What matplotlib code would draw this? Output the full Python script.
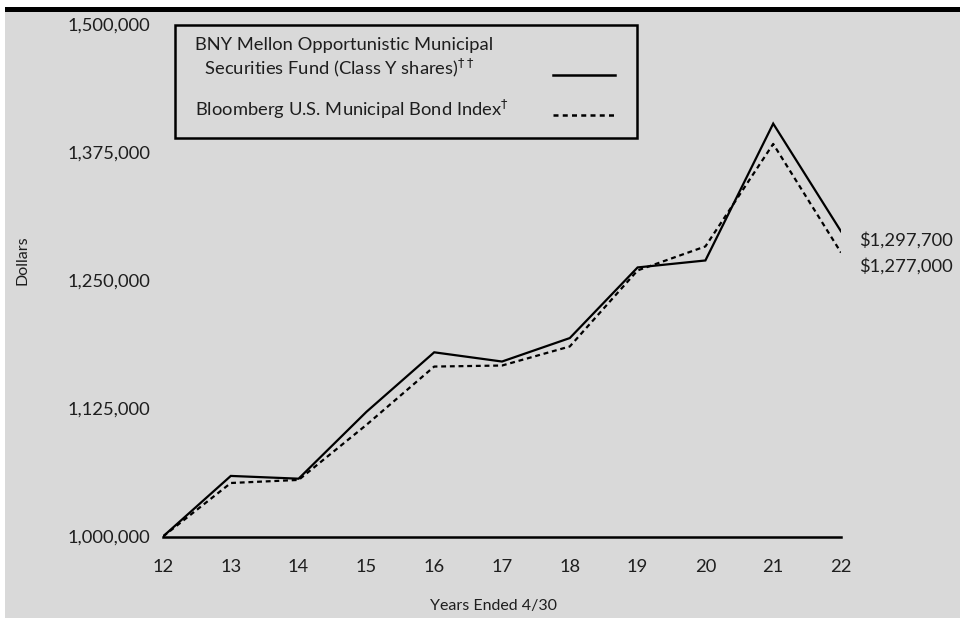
import matplotlib
matplotlib.use("Agg")
import matplotlib.pyplot as plt
from matplotlib.patches import Rectangle
from matplotlib.lines import Line2D

# values
years = [12, 13, 14, 15, 16, 17, 18, 19, 20, 21, 22]
fund = [1000000, 1059100, 1056400, 1121600, 1179700, 1170700,
        1193600, 1262500, 1269300, 1402800, 1297700]
index = [1000000, 1052200, 1055200, 1108900, 1165800, 1166800,
         1185400, 1259600, 1283000, 1383000, 1277000]
y_ticks = [1000000, 1125000, 1250000, 1375000, 1500000]
fund_name = "BNY Mellon Opportunistic Municipal\n  Securities Fund (Class Y shares)$^{\\dagger\\dagger}$"
index_name = "Bloomberg U.S. Municipal Bond Index$^{\\dagger}$"

plt.rcParams['font.family'] = ['Lato', 'DejaVu Sans']
FS = 13.2
BG = "#d9d9d9"
TXT = "#1e1e1e"

fig = plt.figure(figsize=(9.6, 6.18), dpi=100)
fig.patch.set_facecolor("white")
# gray panel + black rule on top
fig.add_artist(Rectangle((5 / 960, 0), 1, 606 / 618, transform=fig.transFigure,
                         facecolor=BG, edgecolor="none", zorder=0))
fig.add_artist(Rectangle((5 / 960, 606 / 618), 1, 5 / 618, transform=fig.transFigure,
                         facecolor="black", edgecolor="none", zorder=0))

ax = fig.add_axes([163 / 960, 81.5 / 618, 678 / 960, 512.5 / 618])
ax.set_facecolor("none")
ax.plot(years, fund, color="black", lw=1.6, solid_joinstyle="miter")
ax.plot(years, index, color="black", lw=1.6, linestyle=(0, (2.2, 1.7)))

ax.set_xlim(12, 22)
ax.set_ylim(1000000, 1500000)
ax.set_xticks(years)
ax.set_xticklabels([str(y) for y in years], fontsize=FS, color=TXT)
ax.set_yticks(y_ticks)
ax.set_yticklabels([f"{v:,}" for v in y_ticks], fontsize=FS, color=TXT)
ax.tick_params(axis="both", length=0)
ax.tick_params(axis="x", pad=16)
ax.tick_params(axis="y", pad=9)
for s in ["top", "right", "left"]:
    ax.spines[s].set_visible(False)
ax.spines["bottom"].set_linewidth(1.8)
ax.spines["bottom"].set_zorder(5)

# end value labels
ax.annotate(f"${fund[-1]:,}", xy=(years[-1], fund[-1]), xytext=(13, -6.5),
            textcoords="offset points", fontsize=FS, va="center", ha="left",
            color=TXT, annotation_clip=False)
ax.annotate(f"${index[-1]:,}", xy=(years[-1], index[-1]), xytext=(13, -9.5),
            textcoords="offset points", fontsize=FS, va="center", ha="left",
            color=TXT, annotation_clip=False)

fig.text(22 / 960, 1 - 260 / 618, "Dollars", rotation=90, ha="center", va="center",
         fontsize=11.5, color=TXT)
fig.text(493 / 960, 1 - 606 / 618, "Years Ended 4/30", ha="center", va="center",
         fontsize=11.5, color=TXT)

# legend box
fig.add_artist(Rectangle((175 / 960, 480 / 618), 462 / 960, 113 / 618,
                         transform=fig.transFigure, facecolor="none",
                         edgecolor="black", lw=1.8, zorder=3))
fig.text(195 / 960, 1 - 58 / 618, fund_name, ha="left", va="center",
         fontsize=FS, color=TXT, linespacing=1.25)
fig.text(195 / 960, 1 - 109 / 618, index_name, ha="left", va="center",
         fontsize=FS, color=TXT)
fig.add_artist(Line2D([553 / 960, 615 / 960], [1 - 75 / 618, 1 - 75 / 618],
                      transform=fig.transFigure, color="black", lw=1.8))
fig.add_artist(Line2D([553 / 960, 615 / 960], [1 - 115 / 618, 1 - 115 / 618],
                      transform=fig.transFigure, color="black", lw=1.8,
                      linestyle=(0, (2.0, 1.7))))

fig.savefig("out.png", dpi=100, facecolor=fig.get_facecolor())
